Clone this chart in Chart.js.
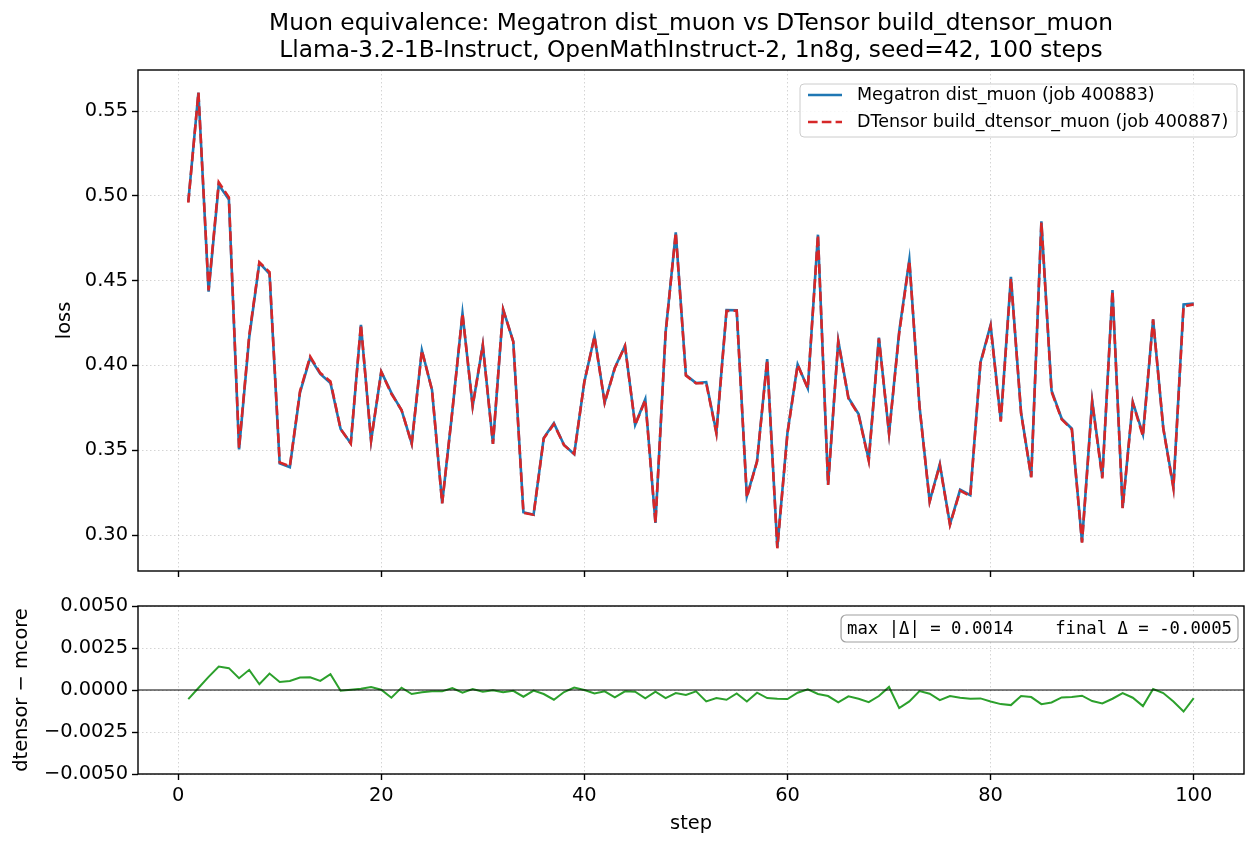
<!DOCTYPE html>
<html>
<head>
<meta charset="utf-8">
<script src="https://cdn.jsdelivr.net/npm/chart.js@4.4.1/dist/chart.umd.min.js"></script>
<style>
  body { margin: 0; background: #fff; }
  #wrap { position: relative; width: 1258px; height: 848px; }
  canvas { position: absolute; left: 0; }
</style>
</head>
<body>
<div id="wrap">
  <canvas id="lossChart" width="1258" height="590" style="top:0"></canvas>
  <canvas id="deltaChart" width="1258" height="258" style="top:590px"></canvas>
</div>
<script>
const steps = [1,2,3,4,5,6,7,8,9,10,11,12,13,14,15,16,17,18,19,20,
  21,22,23,24,25,26,27,28,29,30,31,32,33,34,35,36,37,38,39,40,
  41,42,43,44,45,46,47,48,49,50,51,52,53,54,55,56,57,58,59,60,
  61,62,63,64,65,66,67,68,69,70,71,72,73,74,75,76,77,78,79,80,
  81,82,83,84,85,86,87,88,89,90,91,92,93,94,95,96,97,98,99,100]

const megatronLoss = [0.4965,0.5608,0.4435,0.5066,0.4978,0.3505,0.4165,0.4605,0.4540,0.3423,
  0.3400,0.3840,0.4045,0.3950,0.3897,0.3625,0.3540,0.4240,0.3555,0.3963,
  0.3838,0.3736,0.3540,0.4090,0.3856,0.3188,0.3730,0.4308,0.3760,0.4121,
  0.3537,0.4331,0.4141,0.3135,0.3120,0.3572,0.3660,0.3531,0.3477,0.3904,
  0.4172,0.3781,0.3987,0.4116,0.3650,0.3801,0.3071,0.4195,0.4785,0.3943,
  0.3896,0.3902,0.3605,0.4327,0.4325,0.3229,0.3435,0.4037,0.2927,0.3605,
  0.4005,0.3865,0.4771,0.3299,0.4147,0.3810,0.3713,0.3445,0.4164,0.3598,
  0.4201,0.4624,0.3758,0.3199,0.3419,0.3064,0.3267,0.3235,0.4018,0.4239,
  0.3677,0.4522,0.3722,0.3344,0.4850,0.3852,0.3686,0.3627,0.2958,0.3793,
  0.3342,0.4445,0.3160,0.3785,0.3594,0.4271,0.3632,0.3283,0.4360,0.4365]

const dtensorLoss = [0.4960,0.5609,0.4443,0.5080,0.4991,0.3512,0.4177,0.4608,0.4550,0.3428,
  0.3405,0.3847,0.4053,0.3955,0.3906,0.3625,0.3540,0.4241,0.3557,0.3963,
  0.3833,0.3737,0.3538,0.4089,0.3855,0.3187,0.3731,0.4306,0.3761,0.4120,
  0.3537,0.4330,0.4140,0.3131,0.3120,0.3570,0.3654,0.3530,0.3478,0.3904,
  0.4170,0.3780,0.3983,0.4115,0.3649,0.3796,0.3070,0.4190,0.4783,0.3940,
  0.3895,0.3895,0.3600,0.4321,0.4323,0.3222,0.3433,0.4032,0.2922,0.3600,
  0.4003,0.3865,0.4769,0.3295,0.4140,0.3806,0.3708,0.3438,0.4160,0.3600,
  0.4190,0.4617,0.3757,0.3197,0.3413,0.3060,0.3262,0.3230,0.4013,0.4232,
  0.3669,0.4513,0.3718,0.3340,0.4842,0.3845,0.3682,0.3623,0.2955,0.3786,
  0.3334,0.4440,0.3158,0.3780,0.3584,0.4272,0.3630,0.3276,0.4347,0.4360]

// dtensor - mcore
const lossDelta = [-0.00054,0.00012,0.00078,0.00140,0.00130,0.00070,0.00120,0.00034,0.00098,0.00048,
  0.00054,0.00074,0.00076,0.00054,0.00094,-0.00004,0.00002,0.00008,0.00018,0.00002,
  -0.00046,0.00014,-0.00024,-0.00014,-0.00008,-0.00008,0.00012,-0.00016,0.00006,-0.00010,
  -0.00002,-0.00014,-0.00005,-0.00040,-0.00004,-0.00024,-0.00058,-0.00012,0.00014,0.00000,
  -0.00020,-0.00008,-0.00044,-0.00008,-0.00010,-0.00050,-0.00010,-0.00048,-0.00018,-0.00030,
  -0.00008,-0.00068,-0.00048,-0.00058,-0.00020,-0.00068,-0.00016,-0.00048,-0.00052,-0.00054,
  -0.00016,0.00004,-0.00024,-0.00036,-0.00074,-0.00038,-0.00052,-0.00072,-0.00036,0.00018,
  -0.00108,-0.00068,-0.00006,-0.00022,-0.00060,-0.00036,-0.00046,-0.00052,-0.00050,-0.00068,
  -0.00084,-0.00090,-0.00036,-0.00042,-0.00084,-0.00074,-0.00044,-0.00042,-0.00034,-0.00066,
  -0.00080,-0.00052,-0.00018,-0.00046,-0.00096,0.00006,-0.00018,-0.00068,-0.00128,-0.00048]

const stepTicks = [0, 20, 40, 60, 80, 100]
const lossTicks = [0.30, 0.35, 0.40, 0.45, 0.50, 0.55]
const deltaTicks = [-0.005, -0.0025, 0, 0.0025, 0.005]

const titleLines = [
  'Muon equivalence: Megatron dist_muon vs DTensor build_dtensor_muon',
  'Llama-3.2-1B-Instruct, OpenMathInstruct-2, 1n8g, seed=42, 100 steps'
]

Chart.defaults.font.family = "'DejaVu Sans', sans-serif"
Chart.defaults.font.size = 19
Chart.defaults.color = '#000'
Chart.defaults.animation = false

const GRID = 'rgba(0,0,0,0.17)'

function fixTicks(list) {
  return (scale) => { scale.ticks = list.map(v => ({ value: v })) }
}

const xScale = (showLabels, h) => ({
  type: 'linear',
  min: -3.95,
  max: 104.95,
  afterBuildTicks: fixTicks(stepTicks),
  afterFit: (s) => { s.height = h },
  grid: { color: GRID, lineWidth: 1, tickColor: '#000', tickWidth: 1.4, tickLength: 6 },
  border: { display: false, dash: [1.5, 2.5] },
  ticks: { display: showLabels, padding: 4, maxRotation: 0, autoSkip: false, font: { size: 19.4 } }
})

const yScale = (min, max, list, fmt) => ({
  type: 'linear',
  min, max,
  afterBuildTicks: fixTicks(list),
  afterFit: (s) => { s.width = 138 },
  grid: { color: GRID, lineWidth: 1, tickColor: '#000', tickWidth: 1.4, tickLength: 6 },
  border: { display: false, dash: [1.5, 2.5] },
  ticks: { padding: 4, autoSkip: false, callback: fmt, font: { size: 19.4 } }
})

// frame around the axes, like matplotlib spines
const frame = {
  id: 'frame',
  afterDraw(chart) {
    const { ctx, chartArea: { left, top, right, bottom } } = chart
    ctx.save()
    ctx.strokeStyle = '#000'
    ctx.lineWidth = 1.4
    ctx.strokeRect(left, top, right - left, bottom - top)
    ctx.restore()
  }
}

const lossText = {
  id: 'lossText',
  afterDraw(chart) {
    const { ctx, chartArea: { left, top, right, bottom } } = chart
    ctx.save()
    ctx.fillStyle = '#000'
    ctx.textAlign = 'center'
    ctx.textBaseline = 'middle'
    ctx.font = "23.3px 'DejaVu Sans'"
    const cx = (left + right) / 2
    ctx.fillText(titleLines[0], cx, 24)
    ctx.fillText(titleLines[1], cx, 51)

    ctx.font = "19.4px 'DejaVu Sans'"
    ctx.translate(65, (top + bottom) / 2)
    ctx.rotate(-Math.PI / 2)
    ctx.fillText('loss', 0, 0)
    ctx.restore()

    // legend box, upper right (drawn in legend order, not draw order)
    ctx.save()
    const sets = chart.data.datasets
    const bx = 800, by = 84, bw = 437, bh = 53
    ctx.beginPath()
    ctx.roundRect(bx, by, bw, bh, 4)
    ctx.fillStyle = 'rgba(255,255,255,0.8)'
    ctx.fill()
    ctx.strokeStyle = '#cccccc'
    ctx.lineWidth = 1
    ctx.stroke()
    ctx.font = "17.5px 'DejaVu Sans'"
    ctx.textAlign = 'left'
    ctx.textBaseline = 'middle'
    sets.forEach((ds, i) => {
      const ry = by + 11 + i * 27
      ctx.beginPath()
      ctx.setLineDash(ds.borderDash || [])
      ctx.strokeStyle = ds.borderColor
      ctx.lineWidth = ds.borderWidth
      ctx.moveTo(808, ry)
      ctx.lineTo(842, ry)
      ctx.stroke()
      ctx.setLineDash([])
      ctx.fillStyle = '#000'
      ctx.fillText(ds.label, 857, ry)
    })
    ctx.restore()
  }
}

const deltaText = {
  id: 'deltaText',
  afterDatasetsDraw(chart) {
    const { ctx, chartArea: { left, right }, scales: { y } } = chart
    const y0 = y.getPixelForValue(0)
    ctx.save()
    ctx.strokeStyle = '#000'
    ctx.lineWidth = 1
    ctx.beginPath()
    ctx.moveTo(left, y0)
    ctx.lineTo(right, y0)
    ctx.stroke()
    ctx.restore()
  },
  afterDraw(chart) {
    const { ctx, chartArea: { left, top, right, bottom } } = chart
    ctx.save()
    ctx.fillStyle = '#000'
    ctx.textAlign = 'center'
    ctx.textBaseline = 'middle'
    ctx.font = "19.4px 'DejaVu Sans'"
    ctx.fillText('step', (left + right) / 2, 234)
    ctx.translate(22, (top + bottom) / 2)
    ctx.rotate(-Math.PI / 2)
    ctx.fillText('dtensor \u2212 mcore', 0, 0)
    ctx.restore()

    // summary box
    const maxAbs = Math.max(...lossDelta.map(Math.abs))
    const last = lossDelta[lossDelta.length - 1]
    const txt = 'max |\u0394| = ' + maxAbs.toFixed(4) + '    final \u0394 = ' + last.toFixed(4)
    ctx.save()
    ctx.font = "17.3px 'DejaVu Sans Mono'"
    const tw = ctx.measureText(txt).width
    const bx = right - 6 - tw - 12, by = top + 9, bh = 27
    ctx.beginPath()
    ctx.roundRect(bx, by, tw + 12, bh, 5)
    ctx.fillStyle = '#fff'
    ctx.fill()
    ctx.strokeStyle = '#a0a0a0'
    ctx.lineWidth = 1.2
    ctx.stroke()
    ctx.fillStyle = '#000'
    ctx.textAlign = 'left'
    ctx.textBaseline = 'middle'
    ctx.fillText(txt, bx + 6, by + bh / 2 + 1)
    ctx.restore()
  }
}

const fmtLoss = (v) => v.toFixed(2)
const fmtDelta = (v) => (v < 0 ? '\u2212' : '') + Math.abs(v).toFixed(4)

const lossChart = new Chart(document.getElementById('lossChart'), {
  type: 'line',
  data: {
    datasets: [{
      label: 'Megatron dist_muon (job 400883)',
      data: steps.map((s, i) => ({ x: s, y: megatronLoss[i] })),
      borderColor: '#1f77b4',
      borderWidth: 2.6,
      pointRadius: 0,
      tension: 0,
      order: 2
    }, {
      label: 'DTensor build_dtensor_muon (job 400887)',
      data: steps.map((s, i) => ({ x: s, y: dtensorLoss[i] })),
      borderColor: '#d62728',
      borderWidth: 2.6,
      borderDash: [9.6, 4.2],
      pointRadius: 0,
      tension: 0,
      order: 1
    }]
  },
  options: {
    responsive: false,
    devicePixelRatio: 1,
    layout: { padding: { top: 70, right: 14, left: 0, bottom: 0 } },
    plugins: { legend: { display: false }, tooltip: { enabled: false } },
    scales: {
      x: xScale(false, 19),
      y: yScale(0.2788, 0.5742, lossTicks, fmtLoss)
    }
  },
  plugins: [frame, lossText]
})

const deltaChart = new Chart(document.getElementById('deltaChart'), {
  type: 'line',
  data: {
    datasets: [{
      label: 'delta',
      data: steps.map((s, i) => ({ x: s, y: lossDelta[i] })),
      borderColor: '#2ca02c',
      borderWidth: 2,
      pointRadius: 0,
      tension: 0
    }]
  },
  options: {
    responsive: false,
    devicePixelRatio: 1,
    layout: { padding: { top: 16, right: 14, left: 0, bottom: 0 } },
    plugins: { legend: { display: false }, tooltip: { enabled: false } },
    scales: {
      x: xScale(true, 74),
      y: yScale(-0.005, 0.005, deltaTicks, fmtDelta)
    }
  },
  plugins: [frame, deltaText]
})
</script>
</body>
</html>
